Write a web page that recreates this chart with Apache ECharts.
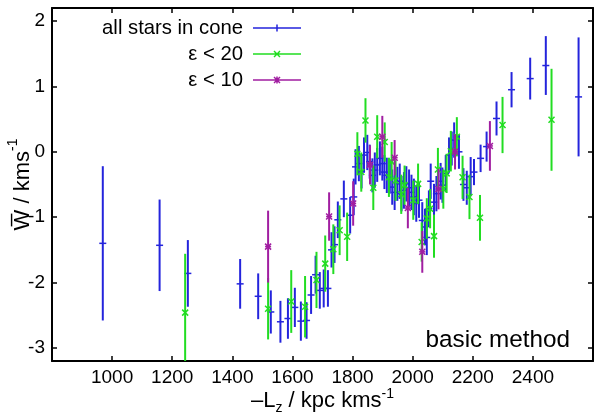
<!DOCTYPE html>
<html>
<head>
<meta charset="utf-8">
<title>basic method</title>
<script src="https://cdn.jsdelivr.net/npm/echarts@6/dist/echarts.min.js"></script>
<style>
  html, body { margin: 0; padding: 0; background: #fff; }
  #chart { width: 598px; height: 420px; }
</style>
</head>
<body>
<div id="chart"></div>
<script>
// all stars in cone: -Lz, mean W, error
const allX = [969, 1158, 1252, 1426, 1486, 1528, 1560, 1585, 1608, 1628, 1647, 1662, 1677, 1691, 1704, 1718,
  1730, 1740, 1751, 1771, 1792, 1804, 1810, 1821, 1830, 1838, 1849, 1857, 1866, 1874, 1882, 1891, 1899, 1906,
  1914, 1924, 1932, 1940, 1949, 1957, 1963, 1971, 1979, 1988, 1996, 2004, 2012, 2021, 2032, 2041, 2047, 2054,
  2060, 2071, 2079, 2093, 2099, 2110, 2121, 2130, 2138, 2154, 2169, 2180, 2193, 2204, 2226, 2246, 2279, 2329,
  2391, 2443, 2552];
const allY = [-1.40, -1.43, -1.86, -2.02, -2.21, -2.45, -2.60, -2.55, -2.38, -2.59, -2.58, -2.19, -1.88, -2.12,
  -2.09, -2.09, -1.50, -1.42, -1.04, -0.72, -0.97, -0.69, -0.23, -0.18, -0.30, -0.05, -0.01, -0.15, -0.36,
  -0.28, -0.20, -0.10, -0.18, -0.31, -0.36, -0.38, -0.54, -0.62, -0.49, -0.45, -0.64, -0.59, -0.49, -0.55,
  -0.62, -0.69, -0.79, -0.74, -1.05, -1.15, -1.31, -0.87, -0.45, -0.77, -0.64, -0.45, -0.51, -0.33, -0.05,
  0.05, 0.18, 0.00, -0.50, -0.55, -0.38, -0.31, -0.10, 0.08, 0.51, 0.95, 1.12, 1.32, 0.84];
const allErr = [1.18, 0.70, 0.51, 0.38, 0.35, 0.33, 0.32, 0.31, 0.30, 0.30, 0.28, 0.29, 0.29, 0.28, 0.29, 0.28,
  0.27, 0.28, 0.28, 0.28, 0.28, 0.28, 0.27, 0.27, 0.26, 0.27, 0.27, 0.26, 0.26, 0.27, 0.26, 0.26, 0.26, 0.26,
  0.27, 0.26, 0.27, 0.27, 0.26, 0.27, 0.27, 0.28, 0.27, 0.28, 0.27, 0.28, 0.28, 0.27, 0.28, 0.28, 0.27, 0.28,
  0.27, 0.28, 0.27, 0.28, 0.27, 0.28, 0.27, 0.26, 0.27, 0.26, 0.25, 0.26, 0.30, 0.20, 0.21, 0.23, 0.26, 0.27,
  0.32, 0.45, 0.91];

// eps < 20
const eps20X = [1243, 1519, 1596, 1642, 1680, 1709, 1736, 1757, 1782, 1816, 1829, 1843, 1869, 1882, 1907, 1921,
  1930, 1943, 1962, 1973, 2002, 2018, 2030, 2047, 2058, 2071, 2084, 2102, 2113, 2127, 2147, 2166, 2189, 2224,
  2299, 2462];
const eps20Y = [-2.46, -2.40, -2.29, -2.37, -1.96, -1.71, -1.49, -1.20, -1.30, -0.03, -0.31, 0.48, -0.55, 0.23,
  0.15, -0.39, -0.15, -0.44, -0.65, -0.51, -0.74, -0.49, -1.38, -1.02, -0.87, -1.29, -0.27, -0.57, -0.33, 0.01,
  0.23, -0.39, -0.69, -1.01, 0.41, 0.49];
const eps20Err = [0.90, 0.47, 0.48, 0.47, 0.43, 0.43, 0.38, 0.38, 0.37, 0.33, 0.30, 0.34, 0.34, 0.33, 0.30, 0.30,
  0.30, 0.31, 0.30, 0.30, 0.30, 0.31, 0.30, 0.31, 0.30, 0.33, 0.33, 0.30, 0.30, 0.31, 0.30, 0.33, 0.34, 0.35,
  0.43, 0.78];

// eps < 10
const eps10X = [1519, 1722, 1802, 1858, 1899, 1940, 1984, 2032, 2086, 2141, 2257];
const eps10Y = [-1.45, -0.99, -0.79, -0.20, 0.23, -0.09, -0.86, -1.53, -0.57, 0.00, 0.09];
const eps10Err = [0.55, 0.37, 0.34, 0.30, 0.32, 0.27, 0.31, 0.32, 0.31, 0.27, 0.38];

const xMin = 800, xMax = 2600, xStep = 200;
const yMin = -3.2, yMax = 2.2;

const FONT = '"Liberation Sans", Arial, Helvetica, sans-serif';
const names = ['all stars in cone', 'ε < 20', 'ε < 10'];
const colors = ['#2424dc', '#22dd22', '#a11ea1'];

// legend samples: line + point symbol
const icons = [
  'path://M0,3.25H48V4.75H0Z M23.25,0.5H24.75V7.5H23.25Z',
  'path://M0,3.25H48V4.75H0Z M20.5,1.5L21.5,0.5L27.5,6.5L26.5,7.5Z M26.5,0.5L27.5,1.5L21.5,7.5L20.5,6.5Z',
  'path://M0,3.25H48V4.75H0Z M23.25,0.5H24.75V7.5H23.25Z M20.5,1.5L21.5,0.5L27.5,6.5L26.5,7.5Z M26.5,0.5L27.5,1.5L21.5,7.5L20.5,6.5Z'
];

function zip(xs, ys, es) {
  return xs.map((x, i) => [x, ys[i], es[i]]);
}

// error bar + point marker
function makeRender(marker) {
  return function (params, api) {
    const x = api.value(0), y = api.value(1), e = api.value(2);
    const c = api.coord([x, y]);
    const hi = api.coord([x, y + e]);
    const lo = api.coord([x, y - e]);
    const cs = params.coordSys;
    const y0 = Math.max(hi[1], cs.y);
    const y1 = Math.min(lo[1], cs.y + cs.height);
    const color = api.visual('color');
    const bar = { stroke: color, lineWidth: 2, fill: null };
    const mk = { stroke: color, lineWidth: 1.5, fill: null };
    const children = [{ type: 'line', shape: { x1: c[0], y1: y0, x2: c[0], y2: y1 }, style: bar }];
    if (marker === 'plus' || marker === 'star') {
      const s = marker === 'plus' ? 3.5 : 3;
      children.push({ type: 'line', shape: { x1: c[0] - s, y1: c[1], x2: c[0] + s, y2: c[1] }, style: mk });
    }
    if (marker === 'cross' || marker === 'star') {
      const s = 3;
      children.push({ type: 'line', shape: { x1: c[0] - s, y1: c[1] - s, x2: c[0] + s, y2: c[1] + s }, style: mk });
      children.push({ type: 'line', shape: { x1: c[0] - s, y1: c[1] + s, x2: c[0] + s, y2: c[1] - s }, style: mk });
    }
    return { type: 'group', children: children };
  };
}

const tickLine = { inside: true, length: 5, lineStyle: { color: '#000', width: 1.5 } };
const axisLine = { show: true, onZero: false, lineStyle: { color: '#000', width: 2 } };
const labelStyle = { color: '#000', fontSize: 19, fontFamily: FONT };

function richTitle(lh) {
  return {
    t: { fontSize: 22, fontFamily: FONT, color: '#000', lineHeight: lh },
    sup: { fontSize: 14, fontFamily: FONT, color: '#000', verticalAlign: 'top' },
    sub: { fontSize: 14, fontFamily: FONT, color: '#000', verticalAlign: 'bottom' }
  };
}

var chartDom = document.getElementById('chart');
var myChart = echarts.init(chartDom, null, { renderer: 'canvas' });
var option;

option = {
  animation: false,
  backgroundColor: '#fff',
  title: {
    text: 'basic method',
    right: 28,
    top: 328,
    padding: 0,
    textStyle: { fontSize: 24.3, fontWeight: 'normal', fontFamily: FONT, color: '#000' }
  },
  legend: names.map((n, i) => ({
    data: [{ name: n, icon: icons[i] }],
    orient: 'vertical',
    align: 'right',
    right: 297,
    top: 18 + 26 * i,
    padding: 0,
    itemWidth: 48,
    itemHeight: 8,
    selectedMode: false,
    textStyle: { fontSize: 20.3, fontFamily: FONT, color: '#000', padding: [0, 5, 0, 0] }
  })),
  grid: { left: 52, right: 5, top: 8, bottom: 59, outerBoundsMode: 'none', containLabel: false },
  xAxis: [
    {
      type: 'value', min: xMin, max: xMax, interval: xStep, position: 'bottom',
      axisLine: axisLine, axisTick: tickLine, splitLine: { show: false },
      axisLabel: Object.assign({ showMinLabel: false, showMaxLabel: false, margin: 7,
        formatter: v => String(v) }, labelStyle),
      name: '{t|–L}{sub|z}{t| / kpc kms}{sup|-1}',
      nameLocation: 'middle', nameGap: 26, nameMoveOverlap: false,
      nameTextStyle: { rich: richTitle(28) }
    },
    {
      type: 'value', min: xMin, max: xMax, interval: xStep, position: 'top',
      axisLine: axisLine, axisTick: tickLine, splitLine: { show: false },
      axisLabel: { show: false }
    }
  ],
  yAxis: [
    {
      type: 'value', min: yMin, max: yMax, minInterval: 1, maxInterval: 1, position: 'left',
      axisLine: axisLine, axisTick: tickLine, splitLine: { show: false },
      axisLabel: Object.assign({ showMinLabel: false, showMaxLabel: false, margin: 7,
        formatter: v => String(v) }, labelStyle),
      name: '{t|W\u0305 / kms}{sup|-1}',
      nameLocation: 'middle', nameGap: 12, nameMoveOverlap: false,
      nameTextStyle: { rich: richTitle(34) }
    },
    {
      type: 'value', min: yMin, max: yMax, minInterval: 1, maxInterval: 1, position: 'right',
      axisLine: axisLine, axisTick: tickLine, splitLine: { show: false },
      axisLabel: { show: false }
    }
  ],
  series: [
    {
      name: names[0], type: 'custom', renderItem: makeRender('plus'),
      itemStyle: { color: colors[0] }, encode: { x: 0, y: 1 },
      data: zip(allX, allY, allErr)
    },
    {
      name: names[1], type: 'custom', renderItem: makeRender('cross'),
      itemStyle: { color: colors[1] }, encode: { x: 0, y: 1 },
      data: zip(eps20X, eps20Y, eps20Err)
    },
    {
      name: names[2], type: 'custom', renderItem: makeRender('star'),
      itemStyle: { color: colors[2] }, encode: { x: 0, y: 1 },
      data: zip(eps10X, eps10Y, eps10Err)
    }
  ]
};

option && myChart.setOption(option);
</script>
</body>
</html>
